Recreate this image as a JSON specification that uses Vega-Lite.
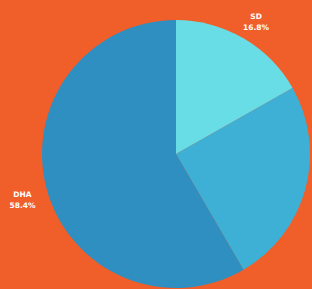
{
  "$schema": "https://vega.github.io/schema/vega-lite/v6.json",
  "width": 272,
  "height": 266,
  "autosize": {"type": "none"},
  "padding": {"left": 40, "top": 21, "right": 0, "bottom": 2},
  "background": "#f05e2a",
  "config": {"view": {"stroke": null}},
  "data": {
    "values": [
      {"category": "SD", "value": 16.8, "order": 1, "label": "SD\n16.8%"},
      {"category": "Other", "value": 24.8, "order": 2, "label": ""},
      {"category": "DHA", "value": 58.4, "order": 3, "label": "DHA\n58.4%"}
    ]
  },
  "encoding": {
    "theta": {"field": "value", "type": "quantitative", "stack": true},
    "order": {"field": "order", "type": "quantitative"}
  },
  "layer": [
    {
      "mark": {"type": "arc", "outerRadius": 134},
      "encoding": {
        "color": {
          "field": "category",
          "type": "nominal",
          "scale": {"domain": ["SD", "Other", "DHA"], "range": ["#68dde6", "#3eb0d6", "#2f8fc1"]},
          "legend": null
        }
      }
    },
    {
      "mark": {"type": "text", "radius": 159, "fill": "#ffffff", "fontSize": 7.5, "fontWeight": "bold", "font": "DejaVu Sans", "lineBreak": "\n", "lineHeight": 11},
      "encoding": {"text": {"field": "label"}}
    }
  ]
}
